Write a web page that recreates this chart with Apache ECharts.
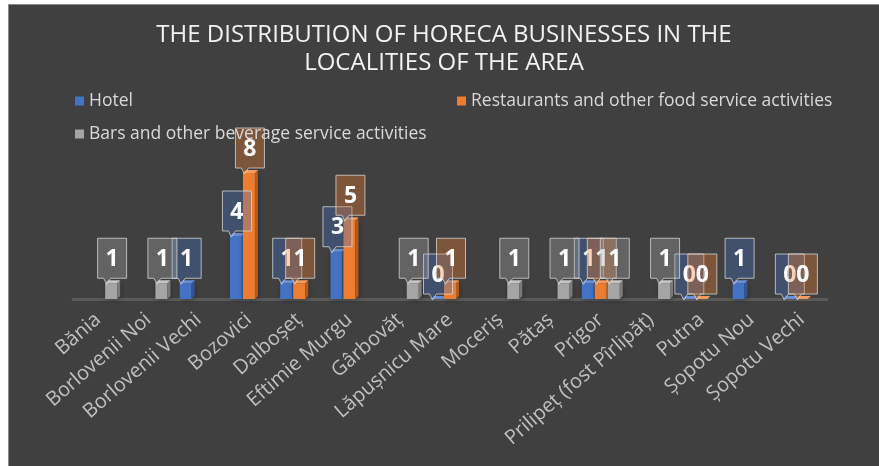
<!DOCTYPE html>
<html>
<head>
<meta charset="utf-8">
<script src="https://cdn.jsdelivr.net/npm/echarts@6/dist/echarts.min.js"></script>
<style>
  html, body { margin: 0; padding: 0; background: #ffffff; }
  #chart {
    position: absolute; left: 8px; top: 4px; width: 871px; height: 462px;
    background: #404040; border-top: 1px solid #8a8a8a; border-left: 1px solid #8a8a8a;
    box-sizing: border-box;
  }
</style>
</head>
<body>
<div id="chart"></div>
<script>
const categories = ['Bănia', 'Borlovenii Noi', 'Borlovenii Vechi', 'Bozovici', 'Dalboșeț', 'Eftimie Murgu',
  'Gârbovăț', 'Lăpușnicu Mare', 'Moceriș', 'Pătaș', 'Prigor', 'Prilipeț (fost Pîrlipăț)', 'Putna',
  'Șopotu Nou', 'Șopotu Vechi']
const hotel = [null, null, 1, 4, 1, 3, null, 0, null, null, 1, null, 0, 1, 0]
const restaurants = [null, null, null, 8, 1, 5, null, 1, null, null, 1, null, 0, null, 0]
const beverage = [1, 1, null, null, null, null, 1, null, 1, 1, 1, 1, null, null, null]

const seriesDefs = [
  { name: 'Hotel', values: hotel, offset: -13, front: '#4472C4', side: '#2f5597', top: '#6a8fd6', box: 'rgba(68,114,196,0.35)' },
  { name: 'Restaurants and other food service activities', values: restaurants, offset: 0, front: '#ED7D31', side: '#b85a18', top: '#f39a5c', box: 'rgba(237,125,49,0.35)' },
  { name: 'Bars and other beverage service activities', values: beverage, offset: 13, front: '#A5A5A5', side: '#7a7a7a', top: '#c4c4c4', box: 'rgba(165,165,165,0.35)' },
]

const W = 12, D = 3

function toData(values) {
  return values.map((v, i) => [i, v == null ? '-' : v])
}

function barRenderer(def) {
  return (params, api) => {
    const v = api.value(1)
    if (v == null || isNaN(v)) return
    const p = api.coord([api.value(0), v])
    const b = api.coord([api.value(0), 0])
    const x = p[0] + def.offset - W / 2
    return {
      type: 'group',
      children: [
        { type: 'rect', shape: { x: x, y: p[1], width: W, height: b[1] - p[1] }, style: { fill: def.front, shadowBlur: 6, shadowColor: 'rgba(0,0,0,0.45)', shadowOffsetX: 2 } },
        { type: 'polygon', shape: { points: [[x + W, p[1]], [x + W + D, p[1] - D], [x + W + D, b[1] - D], [x + W, b[1]]] }, style: { fill: def.side } },
        { type: 'polygon', shape: { points: [[x, p[1]], [x + D, p[1] - D], [x + W + D, p[1] - D], [x + W, p[1]]] }, style: { fill: def.top } },
      ],
    }
  }
}

function labelRenderer(def) {
  return (params, api) => {
    const v = api.value(1)
    if (v == null || isNaN(v)) return
    const p = api.coord([api.value(0), v])
    const xc = p[0] + def.offset + 1
    const bw = 29, bh = 40
    const l = xc - bw / 2, r = xc + bw / 2
    const bot = p[1] - D - 2, t = bot - bh
    return {
      type: 'group',
      children: [
        {
          type: 'polygon',
          shape: { points: [[l, t], [r, t], [r, bot], [l + 13, bot], [l + 9, bot + 6], [l + 6, bot], [l, bot]] },
          style: { fill: def.box, stroke: 'rgba(220,220,220,0.75)', lineWidth: 1 },
        },
        {
          type: 'text', x: xc, y: (t + bot) / 2 + 1,
          style: { text: String(v), fill: '#ffffff', font: 'bold 23px "Open Sans"', align: 'center', verticalAlign: 'middle' },
        },
      ],
    }
  }
}

const chart = echarts.init(document.getElementById('chart'))

const series = []
seriesDefs.forEach((def) => {
  series.push({
    type: 'custom', name: def.name, data: toData(def.values), encode: { x: 0, y: 1 },
    itemStyle: { color: def.front }, renderItem: barRenderer(def), clip: false, z: 2,
  })
})
seriesDefs.forEach((def) => {
  series.push({
    type: 'custom', name: def.name + ' label', data: toData(def.values), encode: { x: 0, y: 1 },
    renderItem: labelRenderer(def), clip: false, silent: true, z: 3,
  })
})

const legendText = { color: '#d9d9d9', fontSize: 17.5, fontFamily: 'Open Sans' }

chart.setOption({
  animation: false,
  title: {
    text: 'THE DISTRIBUTION OF HORECA BUSINESSES IN THE\nLOCALITIES OF THE AREA',
    left: 'center', top: 11, padding: [5, 5, 5, 14],
    textStyle: { color: '#f2f2f2', fontSize: 24, fontWeight: 'normal', fontFamily: 'Open Sans', lineHeight: 28 },
  },
  legend: [
    { data: [seriesDefs[0].name], left: 66, top: 87, padding: 0, itemWidth: 9, itemHeight: 9, itemGap: 4, icon: 'rect', textStyle: legendText },
    { data: [seriesDefs[1].name], left: 448, top: 87, padding: 0, itemWidth: 9, itemHeight: 9, icon: 'rect', textStyle: legendText },
    { data: [seriesDefs[2].name], left: 66, top: 120, padding: 0, itemWidth: 9, itemHeight: 9, icon: 'rect', textStyle: legendText },
  ],
  grid: { left: 64, right: 52, top: 168, bottom: 167 },
  xAxis: {
    type: 'category', data: categories,
    axisTick: { show: false },
    axisLine: { lineStyle: { color: '#5a5a5a', width: 3 } },
    axisLabel: { rotate: 41, interval: 0, margin: 18, color: '#bfbfbf', fontSize: 20, fontFamily: 'Open Sans' },
  },
  yAxis: { type: 'value', min: 0, max: 8, show: false, splitLine: { show: false } },
  series: series,
})
</script>
</body>
</html>
